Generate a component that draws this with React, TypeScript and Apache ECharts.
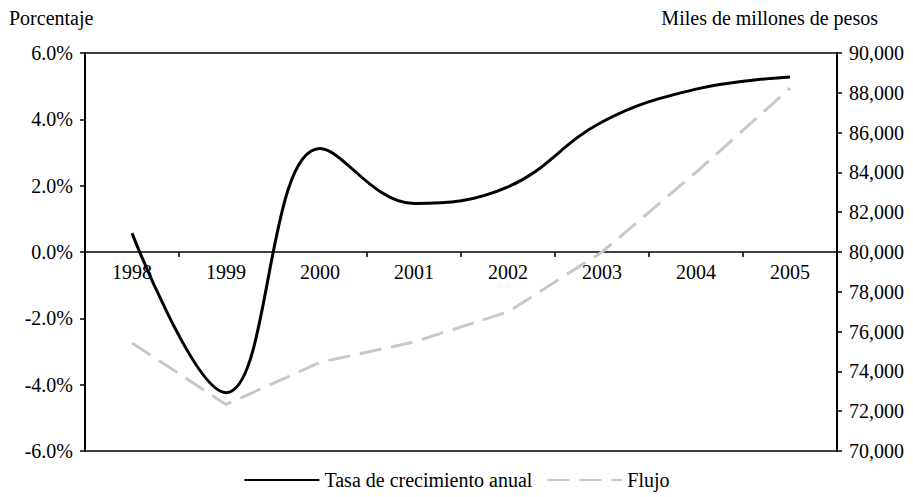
import React, { useEffect, useRef } from "react";
import * as echarts from "echarts";

const years = ["1998", "1999", "2000", "2001", "2002", "2003", "2004", "2005"];
const tasa = [0.57, -4.24, 3.12, 1.46, 1.96, 3.92, 4.91, 5.28];
const flujo = [75430, 72340, 74450, 75480, 76990, 80000, 84000, 88230];
const leftName = "Porcentaje";
const rightName = "Miles de millones de pesos";
const FONT = "Liberation Serif";
const FS = 20;

const GRID_TOP = 53;
const GRID_BOTTOM = 46;
const CHART_H = 497;

export default function App() {
  const ref = useRef<HTMLDivElement>(null);
  useEffect(() => {
    if (!ref.current) return;
    const chart = echarts.init(ref.current, undefined, { renderer: "svg" });
    const plotH = CHART_H - GRID_TOP - GRID_BOTTOM;
    chart.setOption({
      animation: false,
      backgroundColor: "#fff",
      textStyle: { fontFamily: FONT, color: "#000", fontSize: FS },
      grid: {
        left: 85,
        right: 76,
        top: GRID_TOP,
        bottom: GRID_BOTTOM,
        show: true,
        borderColor: "#000",
        borderWidth: 1.5,
      },
      graphic: [
        {
          type: "text",
          left: 9,
          top: 8,
          style: { text: leftName, fontFamily: FONT, fontSize: FS, fill: "#000" },
        },
        {
          type: "text",
          right: 35,
          top: 8,
          style: { text: rightName, fontFamily: FONT, fontSize: FS, fill: "#000" },
        },
      ],
      legend: {
        top: 465,
        left: "center",
        itemWidth: 75,
        itemHeight: 10,
        itemGap: 14,
        itemStyle: { opacity: 0 },
        textStyle: { fontFamily: FONT, fontSize: FS, color: "#000" },
        data: ["Tasa de crecimiento anual", "Flujo"],
      },
      xAxis: {
        type: "category",
        data: years,
        boundaryGap: true,
        position: "bottom",
        offset: -plotH / 2,
        axisLine: { onZero: false, lineStyle: { color: "#000", width: 1.5 } },
        axisTick: { show: true, interval: 0, length: 5, lineStyle: { color: "#000", width: 1.5 } },
        axisLabel: { color: "#000", fontFamily: FONT, fontSize: FS, margin: 10, interval: 0 },
        splitLine: { show: false },
      },
      yAxis: [
        {
          type: "value",
          min: -6,
          max: 6,
          interval: 2,
          position: "left",
          axisLine: { show: true, lineStyle: { color: "#000", width: 2 } },
          axisTick: { show: true, length: 5, lineStyle: { color: "#000", width: 1.5 } },
          axisLabel: {
            color: "#000",
            fontFamily: FONT,
            fontSize: FS,
            margin: 12,
            formatter: (v: number) => v.toFixed(1) + "%",
          },
          splitLine: { show: false },
        },
        {
          type: "value",
          min: 70000,
          max: 90000,
          interval: 2000,
          position: "right",
          axisLine: { show: true, lineStyle: { color: "#000", width: 2 } },
          axisTick: { show: true, length: 5, lineStyle: { color: "#000", width: 1.5 } },
          axisLabel: {
            color: "#000",
            fontFamily: FONT,
            fontSize: FS,
            margin: 12,
            formatter: (v: number) => v.toLocaleString("en-US"),
          },
          splitLine: { show: false },
        },
      ],
      series: [
        {
          name: "Tasa de crecimiento anual",
          type: "line",
          yAxisIndex: 0,
          data: tasa,
          smooth: 0.4,
          symbol: "none",
          lineStyle: { color: "#000", width: 3 },
          itemStyle: { color: "#000" },
          z: 3,
        },
        {
          name: "Flujo",
          type: "line",
          yAxisIndex: 1,
          data: flujo,
          symbol: "none",
          lineStyle: { color: "#c8c8c8", width: 3, type: [22, 10] },
          itemStyle: { color: "#c8c8c8" },
          z: 2,
        },
      ],
    });
    return () => chart.dispose();
  }, []);
  return (
    <div
      ref={ref}
      style={{ position: "fixed", left: 0, top: 0, width: 913, height: CHART_H }}
    />
  );
}
